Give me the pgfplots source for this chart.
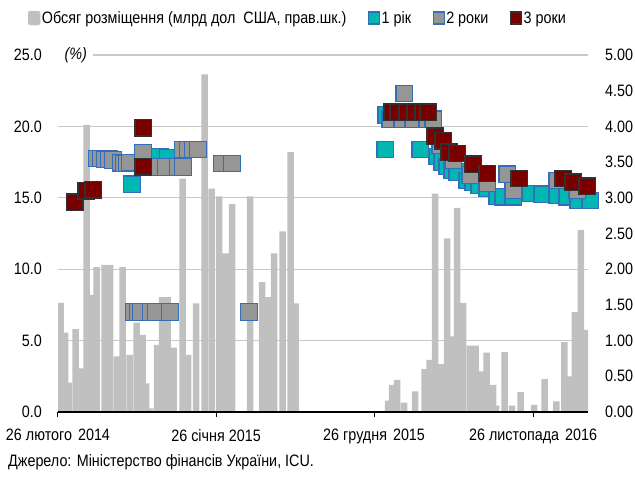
\documentclass[border=0pt]{standalone}
\usepackage{pgfplots}
\pgfplotsset{compat=1.18}
\usepackage{fontspec}
\setmainfont{Liberation Sans}[FakeStretch=0.87]
\definecolor{barg}{RGB}{192,192,192}
\definecolor{gridc}{RGB}{200,200,200}
\definecolor{cyanc}{RGB}{0,183,178}
\definecolor{blueb}{RGB}{50,110,185}
\definecolor{grayf}{RGB}{150,150,150}
\definecolor{redf}{RGB}{122,0,0}
\definecolor{redb}{RGB}{50,50,50}
\begin{document}
\begin{tikzpicture}[font=\fontsize{16.5bp}{19bp}\selectfont]
\path[use as bounding box] (-58bp,-65bp) rectangle (577bp,412bp);
% ---------- bars (right axis) ----------
\begin{axis}[
  scale only axis, width=530bp, height=357bp,
  xmin=0, xmax=1120, ymin=0, ymax=5,
  axis x line=none, axis y line*=right,
  y axis line style={draw=none},
  ytick={0,0.5,...,5}, ytick style={draw=none},
  major tick length=0pt,
  yticklabel style={anchor=west, inner sep=0pt, xshift=17bp,
    /pgf/number format/.cd, fixed, fixed zerofill, precision=2, assume math mode=true},
  extra y ticks={1,2,3,4,5}, extra y tick labels={},
  extra y tick style={grid=major},
  major grid style={color=gridc, line width=1.2bp},
  ybar, bar width=6.5bp,
]
\addplot[fill=barg, draw=none] table {
x y
5.3 1.53
14.8 1.11
22.2 0.41
37 1.16
48.6 0.61
60.3 4.02
70.8 1.64
81.4 2.03
98.3 2.06
109.9 2.06
124.7 0.78
136.4 2.03
151.2 0.80
166 1.25
178.6 1.08
186 0.40
194.5 0.05
209.3 0.94
219.9 1.61
231.5 1.61
244.2 0.90
263.2 3.27
274.8 0.80
291.8 1.52
309.7 4.73
324.5 3.13
340.4 3.02
354.1 2.22
367.9 2.91
405.9 3.02
431.3 1.82
444 1.61
456.7 2.22
474.6 2.53
491.5 3.64
502.1 1.52
697.7 0.16
706 0.38
716.7 0.45
731.5 0.13
754.8 0.29
774.8 0.60
785.4 0.73
797 3.06
808.7 0.67
822.4 2.43
833 1.06
843.6 2.86
856.2 1.53
871 0.93
882.7 0.93
892.2 0.57
905.9 0.83
919.7 0.38
926 0.09
944 0.84
959.8 0.09
977.8 0.28
1006.3 0.10
1028.5 0.46
1052.9 0.15
1069.8 0.98
1080.3 0.50
1092 1.40
1104.7 2.55
1117.3 1.15
};
\end{axis}
% ---------- markers (left axis) ----------
\begin{axis}[
  scale only axis, width=530bp, height=357bp,
  xmin=0, xmax=1120, ymin=0, ymax=25,
  axis x line*=bottom, axis y line*=left,
  y axis line style={draw=none},
  x axis line style={black, line width=1.5bp, -},
  xtick={0,334,668,1004},
  xticklabels={26 лютого\hspace{6bp}2014, 26 січня 2015, 26 грудня\hspace{6bp}2015, 26 листопада\hspace{6bp}2016},
  tick align=outside, major tick length=5bp,
  xtick style={black, line width=1bp},
  xticklabel style={anchor=north, inner sep=0pt, yshift=-12bp},
  ytick={0,5,...,25}, ytick style={draw=none},
  yticklabel style={anchor=east, inner sep=0pt, xshift=-11bp,
    /pgf/number format/.cd, fixed, fixed zerofill, precision=1, assume math mode=true},
  clip=false,
  legend columns=4,
  legend cell align=left,
  legend style={at={(-0.0566,1.1036)}, anchor=west, draw=none, fill=none,
    inner sep=0pt, outer sep=0pt,
    nodes={inner xsep=1.5bp, inner ysep=0pt, anchor=west},
    /tikz/every even column/.append style={column sep=20bp}},
]
\addlegendimage{legend image code/.code={\fill[barg, rounded corners=1.5bp] (0bp,-7bp) rectangle (12bp,7bp);}}
\addlegendentry{Обсяг розміщення (млрд дол\ \ США, прав.шк.)}
\addplot[only marks, mark=square*, mark size=8.2bp,
  mark options={fill=cyanc, draw=blueb, line width=1.2bp},
  legend image code/.code={\draw[fill=cyanc, draw=blueb, line width=1.2bp] (0bp,-6bp) rectangle (11bp,6bp);}]
table {
x y
156.4 15.95
215.6 17.85
232.6 17.8
691.3 18.37
693.4 20.8
765.3 18.37
801.3 17.9
811.8 17.5
822.4 17.2
833 16.9
843.6 16.8
864.7 16.2
877.4 16.1
890 15.9
907 15.65
928 15.1
940.8 15.07
962 15.07
997.9 15.3
1023.3 15.25
1055 15.2
1076 15.07
1099.4 14.85
1124.7 14.8
};
\addlegendentry{1 рік}
\addplot[only marks, mark=square*, mark size=8.2bp,
  mark options={fill=grayf, draw=blueb, line width=1.2bp},
  legend image code/.code={\draw[fill=grayf, draw=blueb, line width=1.2bp] (0bp,-6bp) rectangle (11bp,6bp);}]
table {
x y
82.5 17.75
90.9 17.75
99.4 17.7
107.8 17.7
116.3 17.65
133.2 17.45
139.5 17.4
145.9 17.4
152.2 17.45
160.7 7.0
169.1 7.0
175.5 7.0
196.6 7.0
207.2 7.0
236.8 7.0
179.7 18.15
215.6 17.16
228.3 17.16
253.7 17.16
264.3 17.16
264.3 18.37
274.8 18.37
285.4 18.37
296 18.37
346.7 17.4
367.9 17.4
403.8 7.0
701.9 20.5
727.3 20.5
731.5 22.3
750.5 20.5
780.1 20.5
792.8 20.5
807.6 18.7
835 17.6
871 16.6
907 16.0
949.3 16.65
962 15.5
1055 16.2
1097 15.5
};
\addlegendentry{2 роки}
\addplot[only marks, mark=square*, mark size=8.2bp,
  mark options={fill=redf, draw=redb, line width=1.4bp},
  legend image code/.code={\draw[fill=redf, draw=redb, line width=1.2bp] (0bp,-6bp) rectangle (11bp,6bp);}]
table {
x y
35.9 14.7
59.2 15.5
74 15.55
179.7 19.9
179.7 17.16
706.1 21.0
718.8 21.0
737.8 21.0
754.8 21.0
771.7 21.0
782.2 21.0
797 19.3
814 19.0
826.6 18.2
843.6 18.1
877.4 17.35
907 16.7
974.6 16.35
1067.7 16.35
1088.8 16.1
1118.4 15.8
};
\addlegendentry{3 роки}
\node[anchor=west, fill=white, minimum width=35bp, minimum height=14bp, inner sep=0pt,
  font=\fontsize{16.5bp}{19bp}\selectfont\itshape] at (rel axis cs:0,1) {(\%)};
\end{axis}
\node[anchor=west, inner sep=0pt] at (-50bp,-50bp) {Джерело: Міністерство фінансів України, ICU.};
\end{tikzpicture}
\end{document}
